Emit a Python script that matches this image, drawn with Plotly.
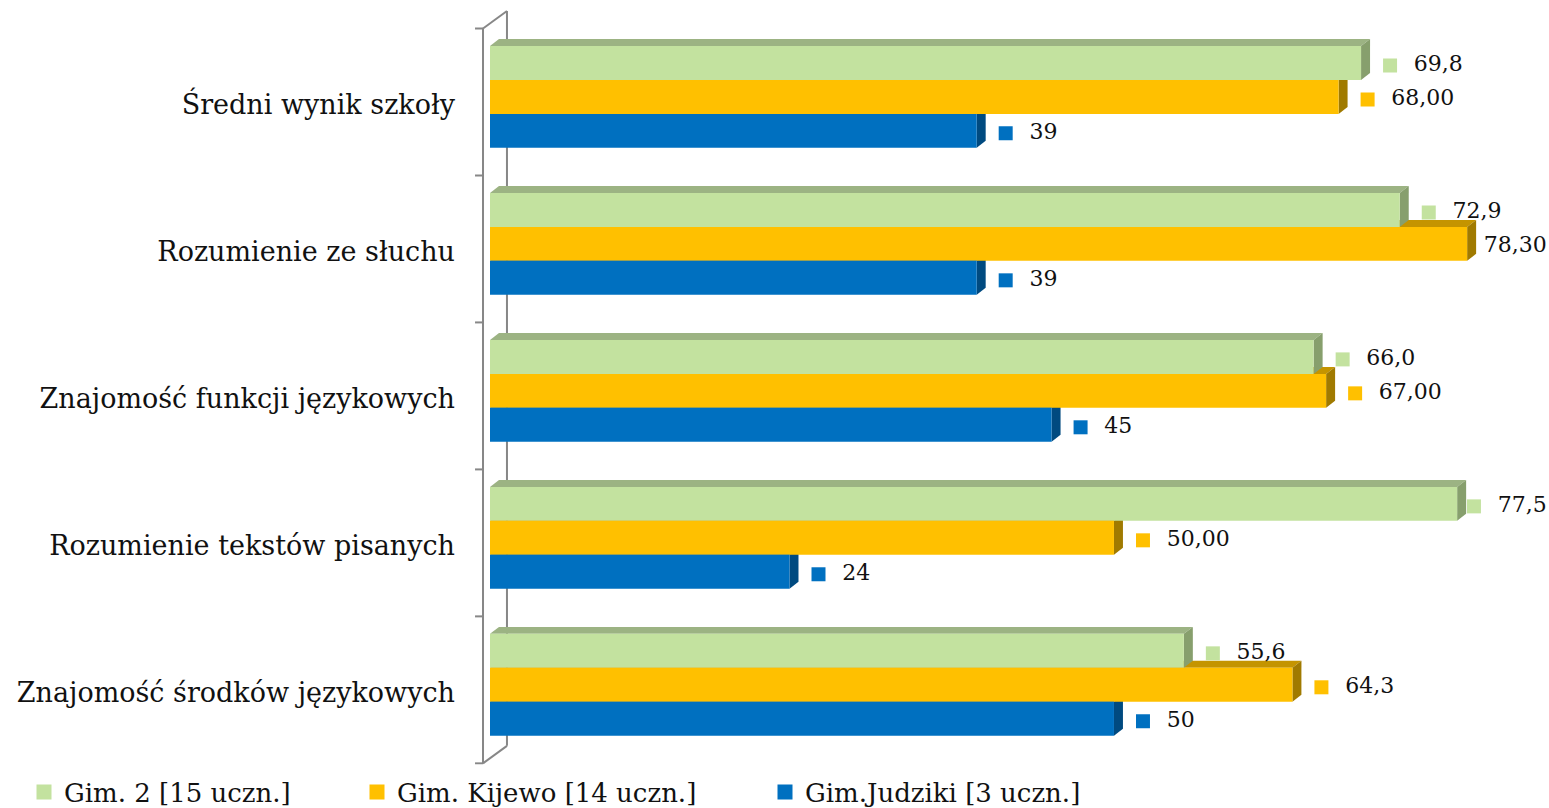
import plotly.graph_objects as go

# ---------------- data ----------------
categories = [
    "Średni wynik szkoły",
    "Rozumienie ze słuchu",
    "Znajomość funkcji językowych",
    "Rozumienie tekstów pisanych",
    "Znajomość środków językowych",
]
series_names = ["Gim. 2 [15 uczn.]", "Gim. Kijewo [14 uczn.]", "Gim.Judziki [3 uczn.]"]
gim2 = [69.8, 72.9, 66.0, 77.5, 55.6]
kijewo = [68.00, 78.30, 67.00, 50.00, 64.3]
judziki = [39, 39, 45, 24, 50]
gim2_labels = ["69,8", "72,9", "66,0", "77,5", "55,6"]
kijewo_labels = ["68,00", "78,30", "67,00", "50,00", "64,3"]
judziki_labels = ["39", "39", "45", "24", "50"]

# ---------------- styles ----------------
FRONT = ["#C3E29F", "#FFC000", "#0070C0"]
TOP = ["#9CB383", "#C49400", "#00599A"]
SIDE = ["#879F6D", "#A07A00", "#004A80"]
FONT = "DejaVu Serif"
PX_PER_UNIT = 12.48
BAR_W = 0.231
GROUP_START = -0.346
DX = 0.72      # 3D depth in x units
DY = 0.0475    # 3D depth in y units
WALL_FRONT_X = -0.56
WALL_BACK_X = 1.36
WALL_DY = 0.119
BOUND0 = -0.465
GRAY = "#878787"
X_MIN, X_MAX = -1.763, 84.86
LABEL_FONT = 22
LABEL_Y_SHIFT = 0.017
CAT_Y_SHIFT = 0.05
LABEL_MARKER_OFFSET_PX = 29     # square centre after bar front end
LABEL_TEXT_OFFSET_PX = 22       # text start after square centre
LABEL_RIGHT_LIMIT_PX = 1545 - 490


def text_width_px(s):
    w = 0.0
    for ch in s:
        w += 0.32 if ch == "," else 0.636
    return w * LABEL_FONT


def label_x(v, s):
    px = v * PX_PER_UNIT + LABEL_MARKER_OFFSET_PX
    px = min(px, LABEL_RIGHT_LIMIT_PX - LABEL_TEXT_OFFSET_PX - text_width_px(s))
    return px / PX_PER_UNIT


all_values = [gim2, kijewo, judziki]
all_labels = [gim2_labels, kijewo_labels, judziki_labels]
n = len(categories)

fig = go.Figure()

# 3D faces (drawn behind the front faces), bottom series first
for k in [2, 1, 0]:
    vals = all_values[k]
    for i, v in enumerate(vals):
        top = i + GROUP_START + k * BAR_W
        bot = top + BAR_W
        fig.add_trace(go.Scatter(
            x=[0, DX, v + DX, v, 0],
            y=[top, top - DY, top - DY, top, top],
            mode="lines", fill="toself", fillcolor=TOP[k],
            line=dict(width=0), hoverinfo="skip", showlegend=False, zorder=0))
        fig.add_trace(go.Scatter(
            x=[v, v + DX, v + DX, v, v],
            y=[top, top - DY, bot - DY, bot, top],
            mode="lines", fill="toself", fillcolor=SIDE[k],
            line=dict(width=0), hoverinfo="skip", showlegend=False, zorder=0))

# front faces as bars
for k in range(3):
    centers = [i + GROUP_START + k * BAR_W + BAR_W / 2 for i in range(n)]
    fig.add_trace(go.Bar(
        x=all_values[k], y=centers, orientation="h", width=BAR_W,
        marker=dict(color=FRONT[k], line=dict(width=0)),
        showlegend=False, hoverinfo="skip", zorder=1))

# data labels with legend keys
for k in range(3):
    centers = [i + GROUP_START + k * BAR_W + BAR_W / 2 + LABEL_Y_SHIFT for i in range(n)]
    fig.add_trace(go.Scatter(
        x=[label_x(v, s) for v, s in zip(all_values[k], all_labels[k])], y=centers,
        mode="markers+text", marker=dict(symbol="square", size=14, color=FRONT[k]),
        text=["  " + t for t in all_labels[k]], textposition="middle right",
        textfont=dict(family=FONT, size=LABEL_FONT, color="#111111"),
        cliponaxis=False, hoverinfo="skip", showlegend=False, zorder=2))

# legends (one per series)
legend_x = [24, 357, 765]
for k in range(3):
    lg = "legend" if k == 0 else f"legend{k+1}"
    fig.add_trace(go.Scatter(
        x=[None], y=[None], mode="markers", name=series_names[k],
        marker=dict(symbol="square", size=15, color=FRONT[k]),
        legend=lg, showlegend=True))

legend_common = dict(orientation="h", xref="container", yref="container",
                     yanchor="middle", xanchor="left", y=1 - 792 / 808,
                     font=dict(family=FONT, size=26, color="#111111"),
                     bgcolor="rgba(0,0,0,0)", borderwidth=0)

# wall / axis shapes
bounds = [BOUND0 + i for i in range(n + 1)]
shapes = []
shapes.append(dict(type="line", xref="x", yref="y", x0=WALL_FRONT_X, x1=WALL_FRONT_X,
                   y0=bounds[0], y1=bounds[-1], line=dict(color=GRAY, width=2), layer="above"))
shapes.append(dict(type="line", xref="x", yref="y", x0=WALL_BACK_X, x1=WALL_BACK_X,
                   y0=bounds[0] - WALL_DY, y1=bounds[-1] - WALL_DY,
                   line=dict(color=GRAY, width=2), layer="below"))
for b in (bounds[0], bounds[-1]):
    shapes.append(dict(type="line", xref="x", yref="y", x0=WALL_FRONT_X, x1=WALL_BACK_X,
                       y0=b, y1=b - WALL_DY, line=dict(color=GRAY, width=2), layer="below"))
for b in bounds:
    shapes.append(dict(type="line", xref="x", yref="y", x0=-1.2, x1=WALL_FRONT_X,
                       y0=b, y1=b, line=dict(color=GRAY, width=2), layer="above"))

fig.update_layout(
    width=1549, height=808,
    margin=dict(l=468, r=0, t=5, b=38),
    paper_bgcolor="white", plot_bgcolor="white",
    barmode="overlay",
    shapes=shapes,
    legend=dict(legend_common, x=legend_x[0] / 1549),
    legend2=dict(legend_common, x=legend_x[1] / 1549),
    legend3=dict(legend_common, x=legend_x[2] / 1549),
    xaxis=dict(range=[X_MIN, X_MAX], showgrid=False, zeroline=False,
               showticklabels=False, showline=False, ticks=""),
    yaxis=dict(range=[4.570, -0.6248], showgrid=False, zeroline=False, showline=False,
               tickmode="array", tickvals=[i + CAT_Y_SHIFT for i in range(n)], ticktext=categories,
               ticks="", ticklabelstandoff=12,
               tickfont=dict(family=FONT, size=27, color="#111111")),
    font=dict(family=FONT),
)

fig.write_html(
    "out.html",
    config={"displayModeBar": False},
    post_script="document.body.style.margin='0';document.body.style.overflow='hidden';",
)
